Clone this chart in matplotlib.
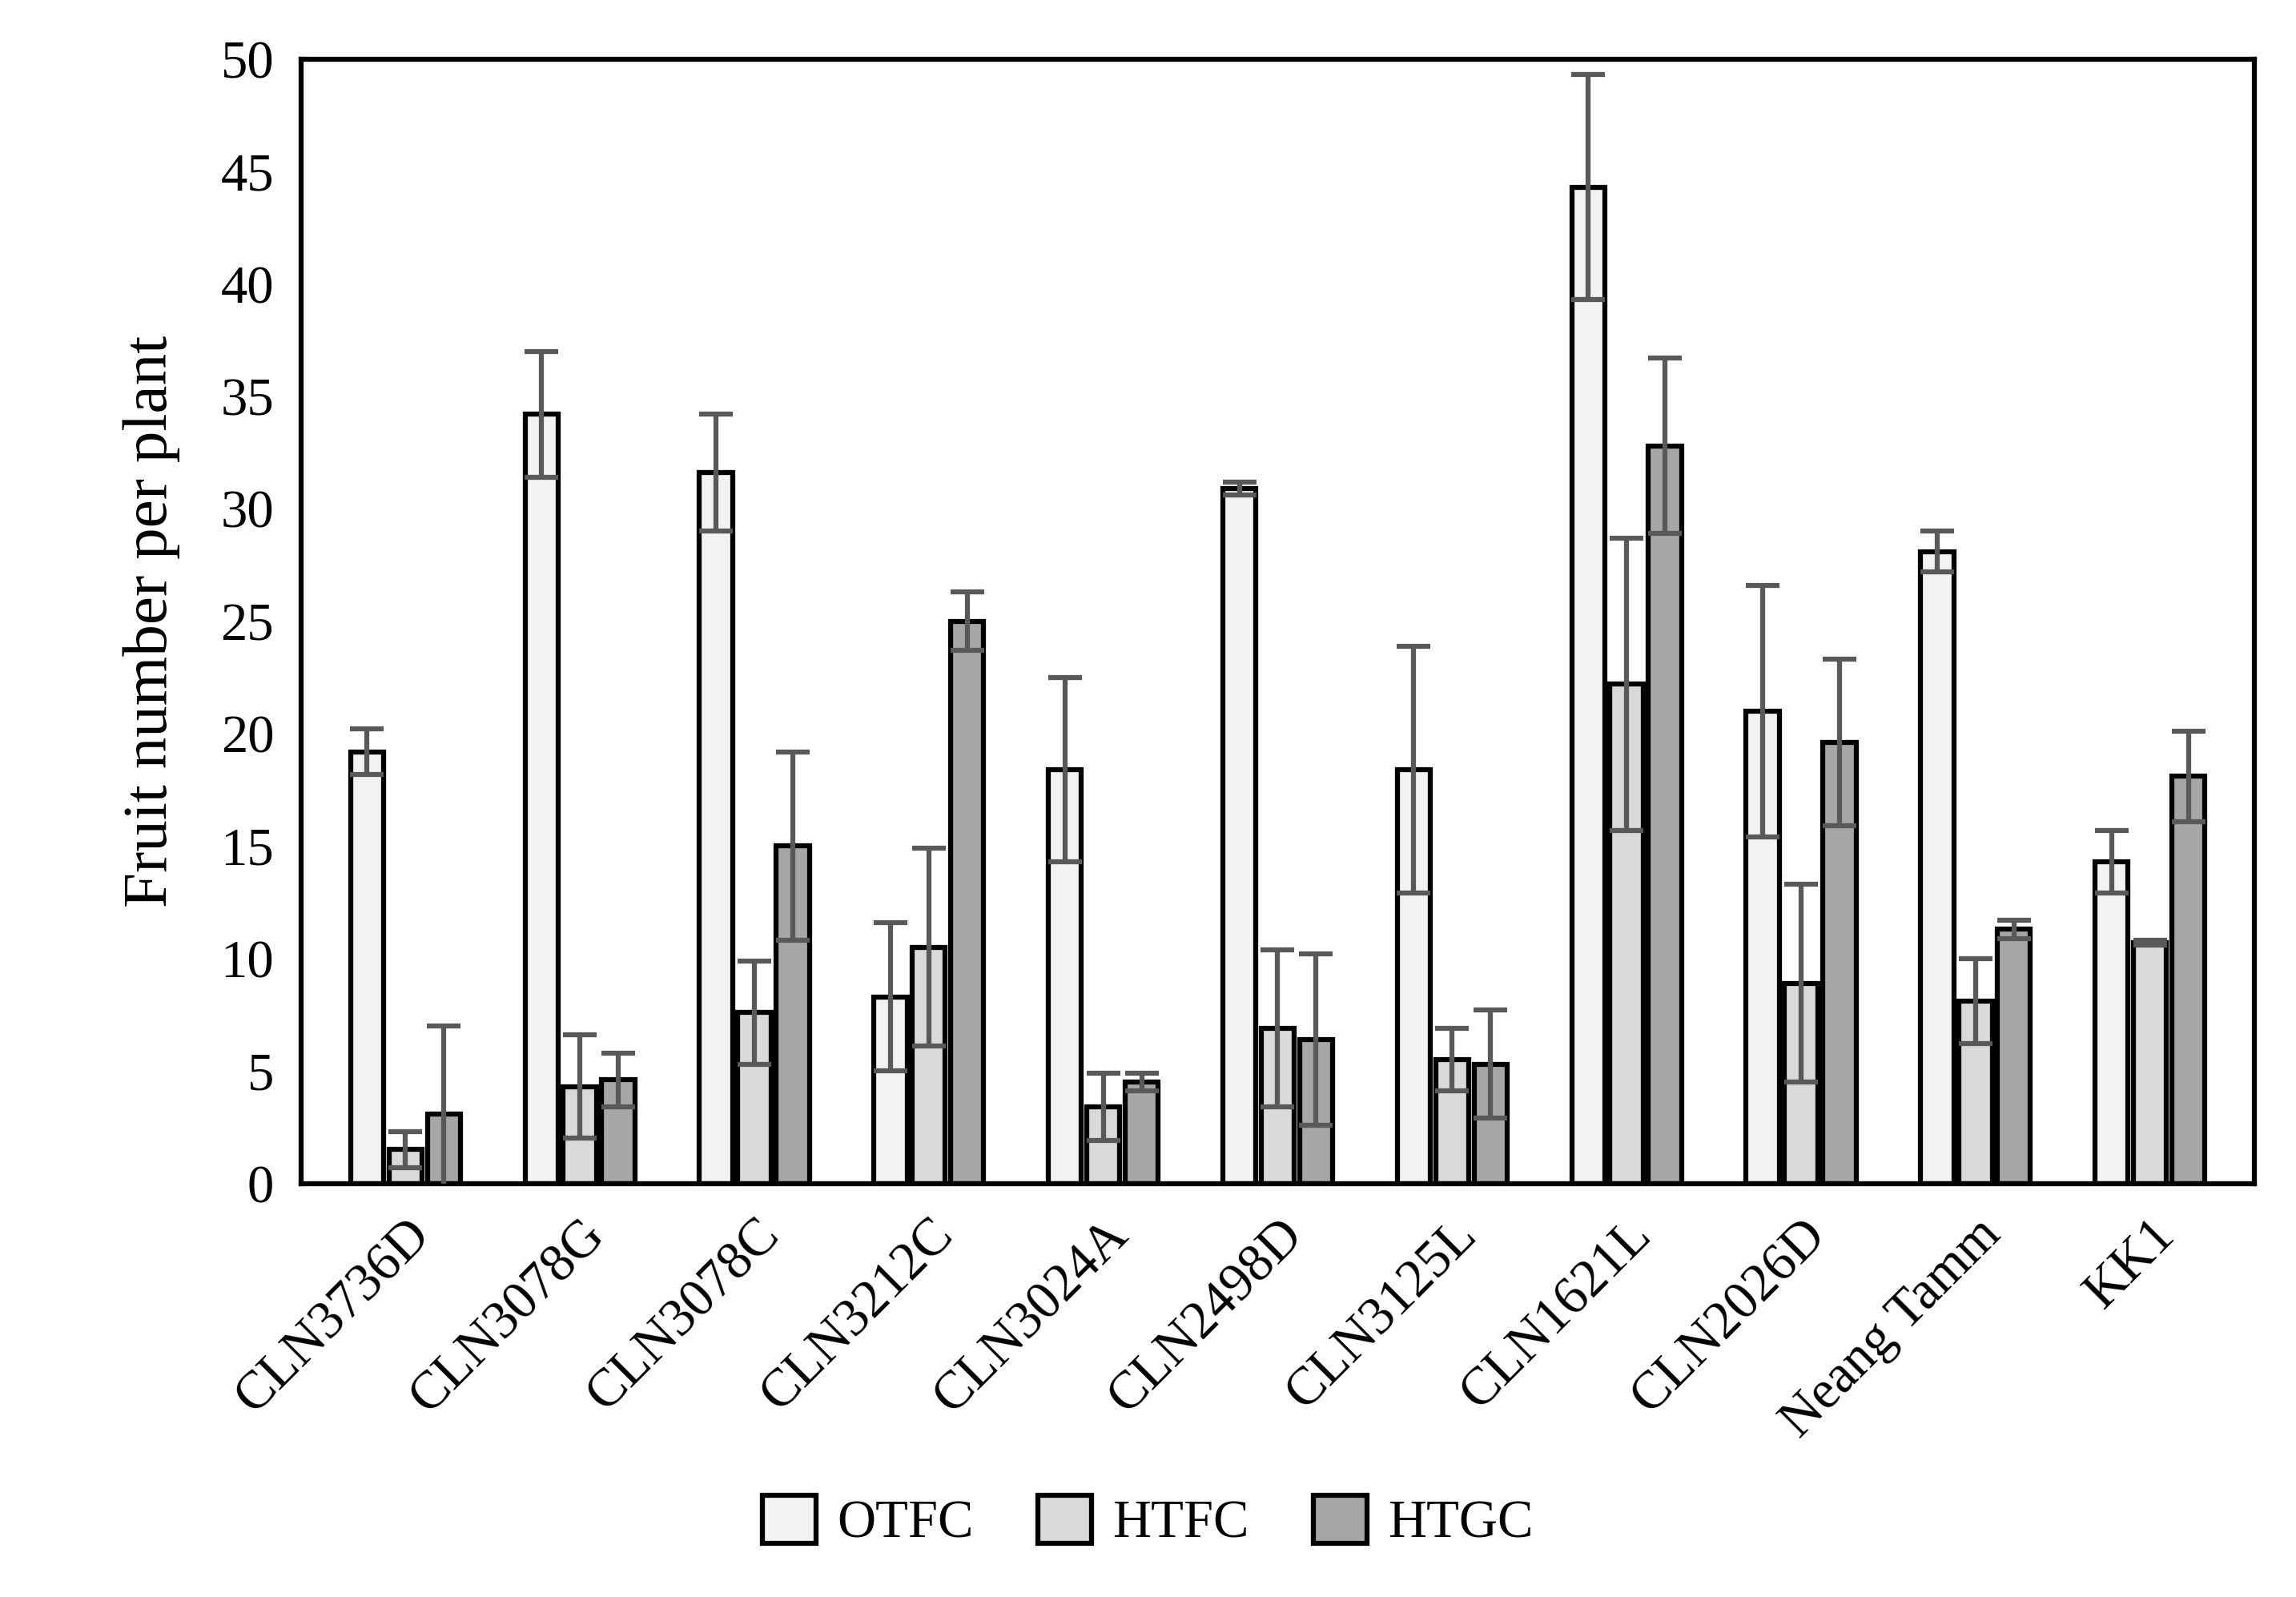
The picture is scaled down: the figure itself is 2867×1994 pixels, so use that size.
import matplotlib
matplotlib.use("Agg")
import matplotlib.pyplot as plt
import numpy as np

categories = ["CLN3736D","CLN3078G","CLN3078C","CLN3212C","CLN3024A","CLN2498D",
              "CLN3125L","CLN1621L","CLN2026D","Neang Tamm","KK1"]
otfc = [19.2,34.2,31.6,8.3,18.4,30.9,18.4,44.3,21.0,28.1,14.3]
otfc_err = [1.0,2.8,2.6,3.3,4.1,0.3,5.5,5.0,5.6,0.9,1.4]
htfc = [1.5,4.3,7.6,10.5,3.4,6.9,5.5,22.2,8.9,8.1,10.7]
htfc_err = [0.8,2.3,2.3,4.4,1.5,3.5,1.4,6.5,4.4,1.9,0.1]
htgc = [3.1,4.6,15.0,25.0,4.5,6.4,5.3,32.8,19.6,11.3,18.1]
htgc_err = [3.9,1.2,4.2,1.3,0.4,3.8,2.4,3.9,3.7,0.4,2.0]
series = ["OTFC","HTFC","HTGC"]
colors = ["#f2f2f2","#d9d9d9","#a6a6a6"]

plt.rcParams['font.family'] = ['Liberation Serif','DejaVu Serif']
fig = plt.figure(figsize=(2867/300,1994/300), dpi=300)
ax = fig.add_axes([0.131,0.259,0.851,0.704])
x = np.arange(len(categories))
w = 0.19
for i,(vals,errs,c,lab) in enumerate(zip([otfc,htfc,htgc],[otfc_err,htfc_err,htgc_err],colors,series)):
    ax.bar(x+(i-1)*0.22, vals, w, color=c, edgecolor='black', linewidth=1.5, label=lab, zorder=2,
           yerr=errs, error_kw=dict(ecolor='#595959', elinewidth=1.5, capsize=5, capthick=1.5, zorder=3))
ax.set_xlim(-0.6, len(categories)-0.4)
ax.set_ylim(0,50)
ax.set_yticks(range(0,51,5))
ax.set_xticks(x)
ax.set_xticklabels(categories, rotation=45, ha='right', rotation_mode='anchor')
ax.tick_params(axis='both', labelsize=16, length=0, pad=8)
for s in ax.spines.values():
    s.set_linewidth(1.5)
ax.set_ylabel("Fruit number per plant", fontsize=19, labelpad=12)
fig.legend(loc='lower center', bbox_to_anchor=(0.5,0.0), ncol=3, frameon=False, fontsize=16,
           handlelength=1.0, handleheight=1.0, columnspacing=1.2, handletextpad=0.4)
fig.savefig("out.png", dpi=300)
